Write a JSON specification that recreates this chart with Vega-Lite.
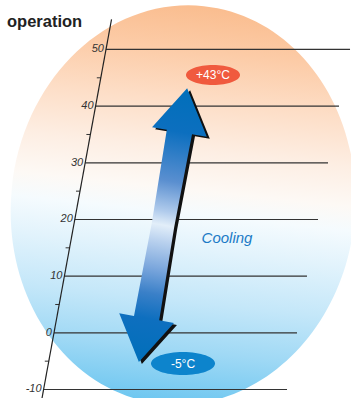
{
  "$schema": "https://vega.github.io/schema/vega-lite/v6.json",
  "width": 351,
  "height": 398,
  "padding": 0,
  "autosize": {"type": "none"},
  "background": "white",
  "config": {"view": {"stroke": null}},
  "datasets": {
    "grid": [
      {"t": 50, "h": 30.2, "he": 99.72, "label": "50"},
      {"t": 40, "h": 27.24, "he": 96.58, "label": "40"},
      {"t": 30, "h": 24.27, "he": 93.45, "label": "30"},
      {"t": 20, "h": 21.31, "he": 90.6, "label": "20"},
      {"t": 10, "h": 18.35, "he": 87.46, "label": "10"},
      {"t": 0, "h": 15.38, "he": 84.62, "label": "0"},
      {"t": -10, "h": 12.42, "he": 81.77, "label": "-10"}
    ],
    "minor": [
      {"t": 45, "h": 28.72},
      {"t": 35, "h": 25.75},
      {"t": 25, "h": 22.79},
      {"t": 15, "h": 19.83},
      {"t": 5, "h": 16.87},
      {"t": -5, "h": 13.9}
    ],
    "axisline": [{"h": 31.77, "t": 55.3, "h2": 11.97, "t2": -11.5}],
    "oval": [{"h": 52.14, "t": 22.55}],
    "arrow": [{"h": 46.44, "t": 19.02}],
    "hot": [{"h": 60.68, "t": 45.49, "label": "+43°C"}],
    "cold": [{"h": 52.14, "t": -5.42, "label": "-5°C"}],
    "mode": [{"h": 64.67, "t": 15.85, "label": "Cooling"}],
    "title": [{"h": 1.99, "t": 53.96, "label": "operation"}]
  },
  "encoding": {
    "x": {"field": "h", "type": "quantitative", "scale": {"domain": [0, 100], "nice": false, "zero": false}, "axis": null},
    "y": {"field": "t", "type": "quantitative", "scale": {"domain": [-11.5, 58.73], "nice": false, "zero": false}, "axis": null}
  },
  "layer": [
    {
      "data": {"name": "oval"},
      "mark": {
        "type": "point",
        "shape": "M -0.86,0 A 0.86,1 0 1,0 0.86,0 A 0.86,1 0 1,0 -0.86,0 Z",
        "size": 160000,
        "angle": 6,
        "filled": true,
        "opacity": 1,
        "strokeWidth": 0,
        "fill": {
          "gradient": "linear", "x1": 0, "y1": 0, "x2": 0, "y2": 1,
          "stops": [
            {"offset": 0, "color": "#fabd8f"},
            {"offset": 0.11, "color": "#fccba6"},
            {"offset": 0.24, "color": "#fddec7"},
            {"offset": 0.36, "color": "#fdeee3"},
            {"offset": 0.46, "color": "#fdf9f5"},
            {"offset": 0.52, "color": "#f5fbfe"},
            {"offset": 0.61, "color": "#e2f3fc"},
            {"offset": 0.74, "color": "#c4e7f9"},
            {"offset": 0.86, "color": "#a0d9f5"},
            {"offset": 1, "color": "#6cc6f0"}
          ]
        }
      }
    },
    {
      "data": {"name": "grid"},
      "mark": {"type": "rule", "color": "#333333", "strokeWidth": 1.2},
      "encoding": {"x2": {"field": "he"}}
    },
    {
      "data": {"name": "minor"},
      "mark": {"type": "rule", "color": "#333333", "strokeWidth": 1, "x2Offset": -4},
      "encoding": {"x2": {"field": "h"}}
    },
    {
      "data": {"name": "axisline"},
      "mark": {"type": "rule", "color": "#222222", "strokeWidth": 1.2},
      "encoding": {"x2": {"field": "h2"}, "y2": {"field": "t2"}}
    },
    {
      "data": {"name": "grid"},
      "mark": {"type": "text", "align": "right", "baseline": "middle", "dx": -2, "font": "Liberation Sans", "fontStyle": "italic", "fontSize": 11, "color": "#333333"},
      "encoding": {"text": {"field": "label"}}
    },
    {
      "data": {"name": "arrow"},
      "mark": {
        "type": "point",
        "shape": "M 0,-1 L 0.2,-0.68 L 0.092,-0.68 L 0.082,0 L 0.092,0.68 L 0.2,0.68 L 0,1 L -0.2,0.68 L -0.092,0.68 L -0.082,0 L -0.092,-0.68 L -0.2,-0.68 Z",
        "size": 77284,
        "angle": 10,
        "filled": true,
        "opacity": 1,
        "strokeWidth": 0,
        "fill": "#111111",
        "xOffset": 3,
        "yOffset": 2
      }
    },
    {
      "data": {"name": "arrow"},
      "mark": {
        "type": "point",
        "shape": "M 0,-1 L 0.2,-0.68 L 0.092,-0.68 L 0.082,0 L 0.092,0.68 L 0.2,0.68 L 0,1 L -0.2,0.68 L -0.092,0.68 L -0.082,0 L -0.092,-0.68 L -0.2,-0.68 Z",
        "size": 77284,
        "angle": 10,
        "filled": true,
        "opacity": 1,
        "strokeWidth": 0,
        "fill": {
          "gradient": "linear", "x1": 0, "y1": 0, "x2": 0, "y2": 1,
          "stops": [
            {"offset": 0, "color": "#006fba"},
            {"offset": 0.16, "color": "#0c6fbf"},
            {"offset": 0.34, "color": "#5a8fd0"},
            {"offset": 0.45, "color": "#b0cbec"},
            {"offset": 0.5, "color": "#e2eef9"},
            {"offset": 0.56, "color": "#b9d1ee"},
            {"offset": 0.66, "color": "#7aa6dc"},
            {"offset": 0.75, "color": "#3a80c8"},
            {"offset": 0.84, "color": "#0e6fbf"},
            {"offset": 1, "color": "#006fba"}
          ]
        }
      }
    },
    {
      "data": {"name": "hot"},
      "mark": {"type": "point", "shape": "M -1,0 A 1,0.37 0 1,0 1,0 A 1,0.37 0 1,0 -1,0 Z", "size": 2916, "filled": true, "opacity": 1, "strokeWidth": 0, "fill": "#f05a3e"}
    },
    {
      "data": {"name": "cold"},
      "mark": {"type": "point", "shape": "M -1,0 A 1,0.36 0 1,0 1,0 A 1,0.36 0 1,0 -1,0 Z", "size": 4096, "filled": true, "opacity": 1, "strokeWidth": 0, "fill": "#0d84cc"}
    },
    {
      "data": {"name": "hot"},
      "mark": {"type": "text", "align": "center", "baseline": "middle", "font": "Liberation Sans", "fontSize": 12, "color": "white"},
      "encoding": {"text": {"field": "label"}}
    },
    {
      "data": {"name": "cold"},
      "mark": {"type": "text", "align": "center", "baseline": "middle", "font": "Liberation Sans", "fontSize": 12, "color": "white"},
      "encoding": {"text": {"field": "label"}}
    },
    {
      "data": {"name": "mode"},
      "mark": {"type": "text", "align": "center", "baseline": "alphabetic", "font": "Liberation Sans", "fontStyle": "italic", "fontSize": 15, "color": "#1a7ac6"},
      "encoding": {"text": {"field": "label"}}
    },
    {
      "data": {"name": "title"},
      "mark": {"type": "text", "align": "left", "baseline": "alphabetic", "font": "Liberation Sans", "fontWeight": "bold", "fontSize": 16.5, "color": "#222222"},
      "encoding": {"text": {"field": "label"}}
    }
  ]
}
